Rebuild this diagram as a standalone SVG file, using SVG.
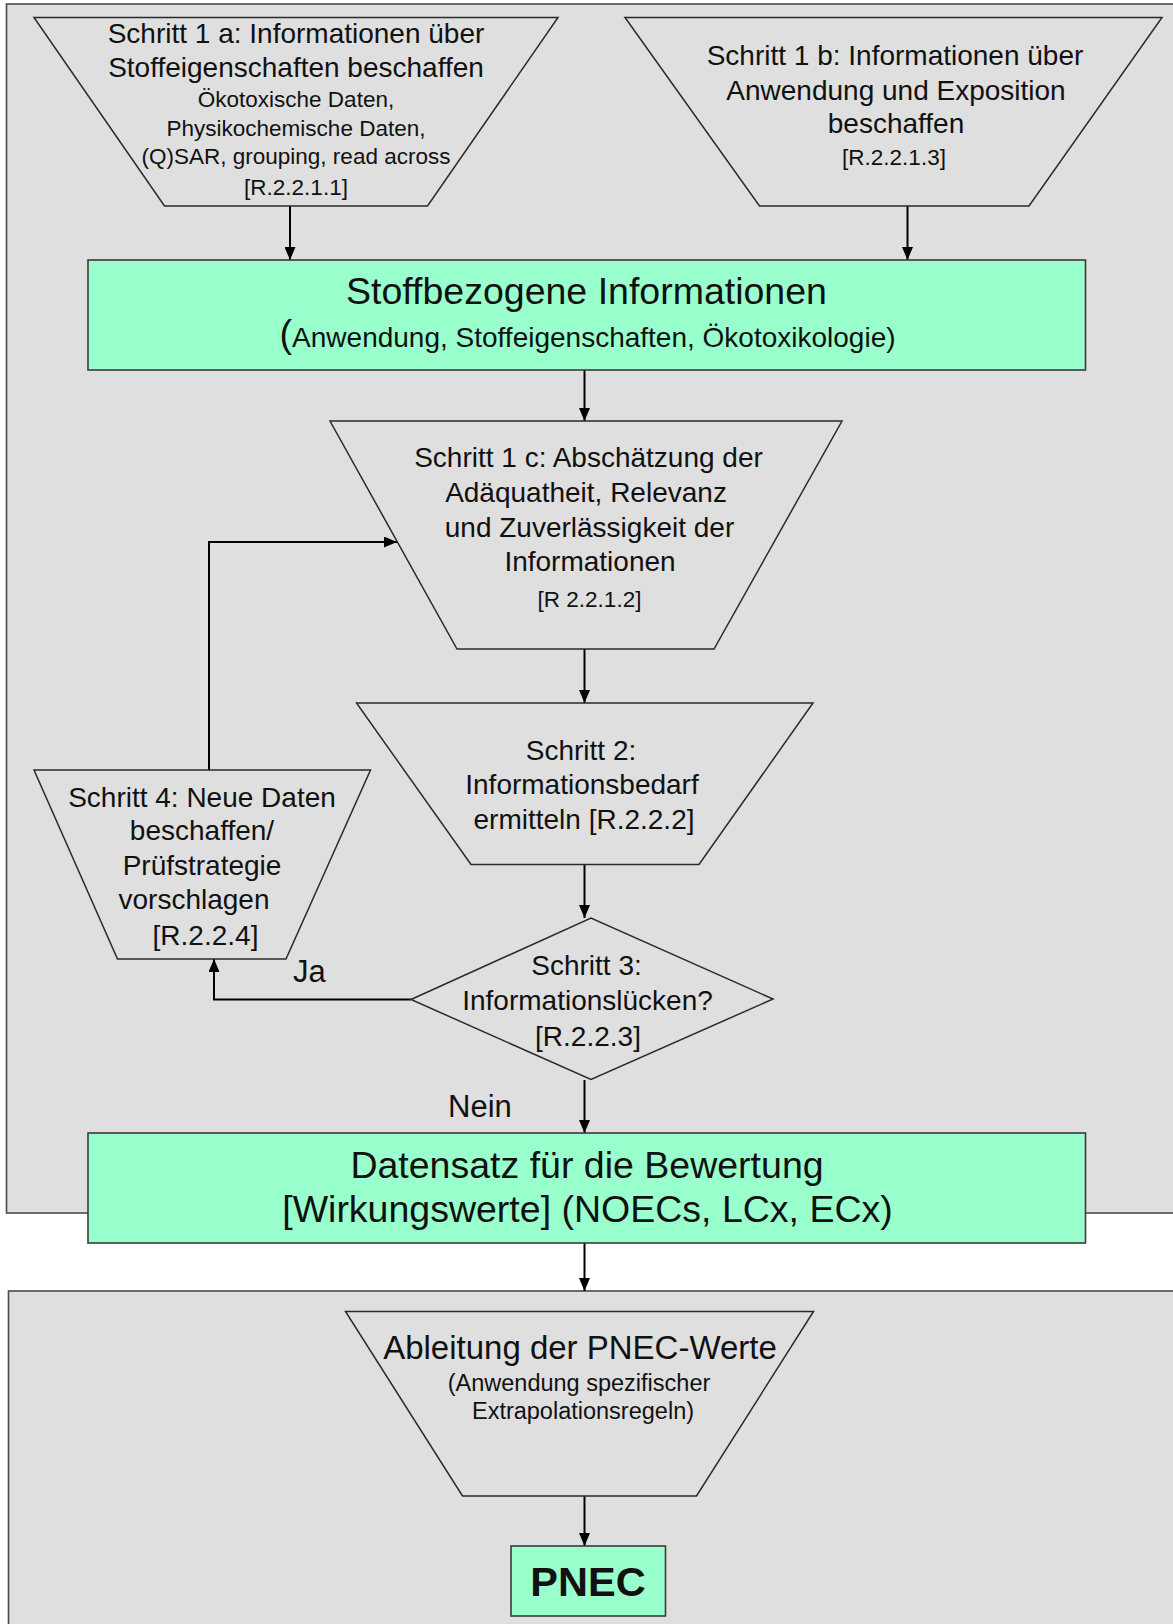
<svg xmlns="http://www.w3.org/2000/svg" width="1173" height="1624" viewBox="0 0 1173 1624">
<style>
text{font-family:"Liberation Sans",Arial,sans-serif;fill:#111;text-anchor:middle}
.panel{fill:#dfdfdf;stroke:#4a4a4a;stroke-width:1.6}
.shape{fill:#dfdfdf;stroke:#2a2a2a;stroke-width:1.5;stroke-linejoin:miter}
.green{fill:#99ffcc;stroke:#3a3a3a;stroke-width:1.6}
.conn{fill:none;stroke:#000;stroke-width:2;marker-end:url(#arr)}
.m{font-size:28px}
.s{font-size:22.5px}
.b{font-size:37.5px}
.l{font-size:31px;text-anchor:start}
</style>
<defs>
<marker id="arr" viewBox="0 0 13 11" refX="13" refY="5.5" markerWidth="13" markerHeight="11" markerUnits="userSpaceOnUse" orient="auto">
<path d="M0,0 L13,5.5 L0,11 z" fill="#000"/>
</marker>
</defs>
<rect x="0" y="0" width="1173" height="1624" fill="#fff"/>
<g id="panel-top"><rect class="panel" x="6.5" y="4" width="1200" height="1209"/></g>
<g id="panel-bottom"><rect class="panel" x="8.5" y="1291" width="1200" height="400"/></g>

<g id="connectors">
<path class="conn" d="M290,206 V260"/>
<path class="conn" d="M907.5,206 V260"/>
<path class="conn" d="M584.5,370 V421"/>
<path class="conn" d="M584.5,649 V703"/>
<path class="conn" d="M584.5,864.5 V918"/>
<path class="conn" d="M584.5,1080 V1133"/>
<path class="conn" d="M411,999.5 H214 V959"/>
<path class="conn" d="M209,770 V542 H397"/>
<path class="conn" d="M584.5,1243 V1291"/>
<path class="conn" d="M584.5,1496 V1546"/>
</g>

<g id="step1a">
<polygon class="shape" points="34,17.5 558,17.5 427.5,206 164.5,206"/>
<text class="m" x="296" y="42.5">Schritt 1 a: Informationen über</text>
<text class="m" x="296" y="76.5">Stoffeigenschaften beschaffen</text>
<text class="s" x="296" y="106.5">Ökotoxische Daten,</text>
<text class="s" x="296" y="135.5">Physikochemische Daten,</text>
<text class="s" x="296" y="164">(Q)SAR, grouping, read across</text>
<text class="s" x="296" y="195">[R.2.2.1.1]</text>
</g>

<g id="step1b">
<polygon class="shape" points="625,17.5 1162,17.5 1029,206 759.5,206"/>
<text class="m" x="895" y="65">Schritt 1 b: Informationen über</text>
<text class="m" x="896" y="100">Anwendung und Exposition</text>
<text class="m" x="896" y="133">beschaffen</text>
<text class="s" x="894" y="165">[R.2.2.1.3]</text>
</g>

<g id="substance-info">
<rect class="green" x="88" y="260" width="997.5" height="110"/>
<text class="b" x="586.5" y="304">Stoffbezogene Informationen</text>
<text class="m" x="587.5" y="347"><tspan font-size="38">(</tspan>Anwendung, Stoffeigenschaften, Ökotoxikologie)</text>
</g>

<g id="step1c">
<polygon class="shape" points="330,421 842,421 714,649 457,649"/>
<text class="m" x="588.5" y="467">Schritt 1 c: Abschätzung der</text>
<text class="m" x="586" y="501.5">Adäquatheit, Relevanz</text>
<text class="m" x="589.5" y="536.5">und Zuverlässigkeit der</text>
<text class="m" x="590" y="571">Informationen</text>
<text class="s" x="589.5" y="606.5">[R 2.2.1.2]</text>
</g>

<g id="step2">
<polygon class="shape" points="356.5,703 813,703 699,864.5 471,864.5"/>
<text class="m" x="581" y="760">Schritt 2:</text>
<text class="m" x="582" y="793.5">Informationsbedarf</text>
<text class="m" x="584" y="828.5">ermitteln [R.2.2.2]</text>
</g>

<g id="step3">
<polygon class="shape" points="411,999.5 591,918 773,999 591,1079.5"/>
<text class="m" x="586.5" y="975">Schritt 3:</text>
<text class="m" x="587.5" y="1009.5">Informationslücken?</text>
<text class="m" x="588" y="1046">[R.2.2.3]</text>
</g>

<g id="step4">
<polygon class="shape" points="34,770 370.5,770 286,959 117.5,959"/>
<text class="m" x="202" y="806.5">Schritt 4: Neue Daten</text>
<text class="m" x="202" y="840">beschaffen/</text>
<text class="m" x="202" y="874.5">Prüfstrategie</text>
<text class="m" x="194" y="908.5">vorschlagen</text>
<text class="m" x="205.5" y="944.5">[R.2.2.4]</text>
</g>

<g id="labels">
<text class="l" x="293" y="982">Ja</text>
<text class="l" x="448" y="1117">Nein</text>
</g>

<g id="dataset">
<rect class="green" x="88" y="1133" width="997.5" height="110"/>
<text class="b" x="587" y="1177.5">Datensatz für die Bewertung</text>
<text class="b" x="587.5" y="1221.5">[Wirkungswerte] (NOECs, LCx, ECx)</text>
</g>

<g id="pnec-derivation">
<polygon class="shape" points="345.5,1311.5 813.5,1311.5 696.5,1496 462.5,1496"/>
<text x="580" y="1359" font-size="33">Ableitung der PNEC-Werte</text>
<text x="579" y="1391" font-size="23.5">(Anwendung spezifischer</text>
<text x="583" y="1418.5" font-size="23.5">Extrapolationsregeln)</text>
</g>

<g id="pnec">
<rect class="green" x="511" y="1546" width="154.5" height="70"/>
<text x="588" y="1596" font-size="41.5" font-weight="bold">PNEC</text>
</g>
</svg>
